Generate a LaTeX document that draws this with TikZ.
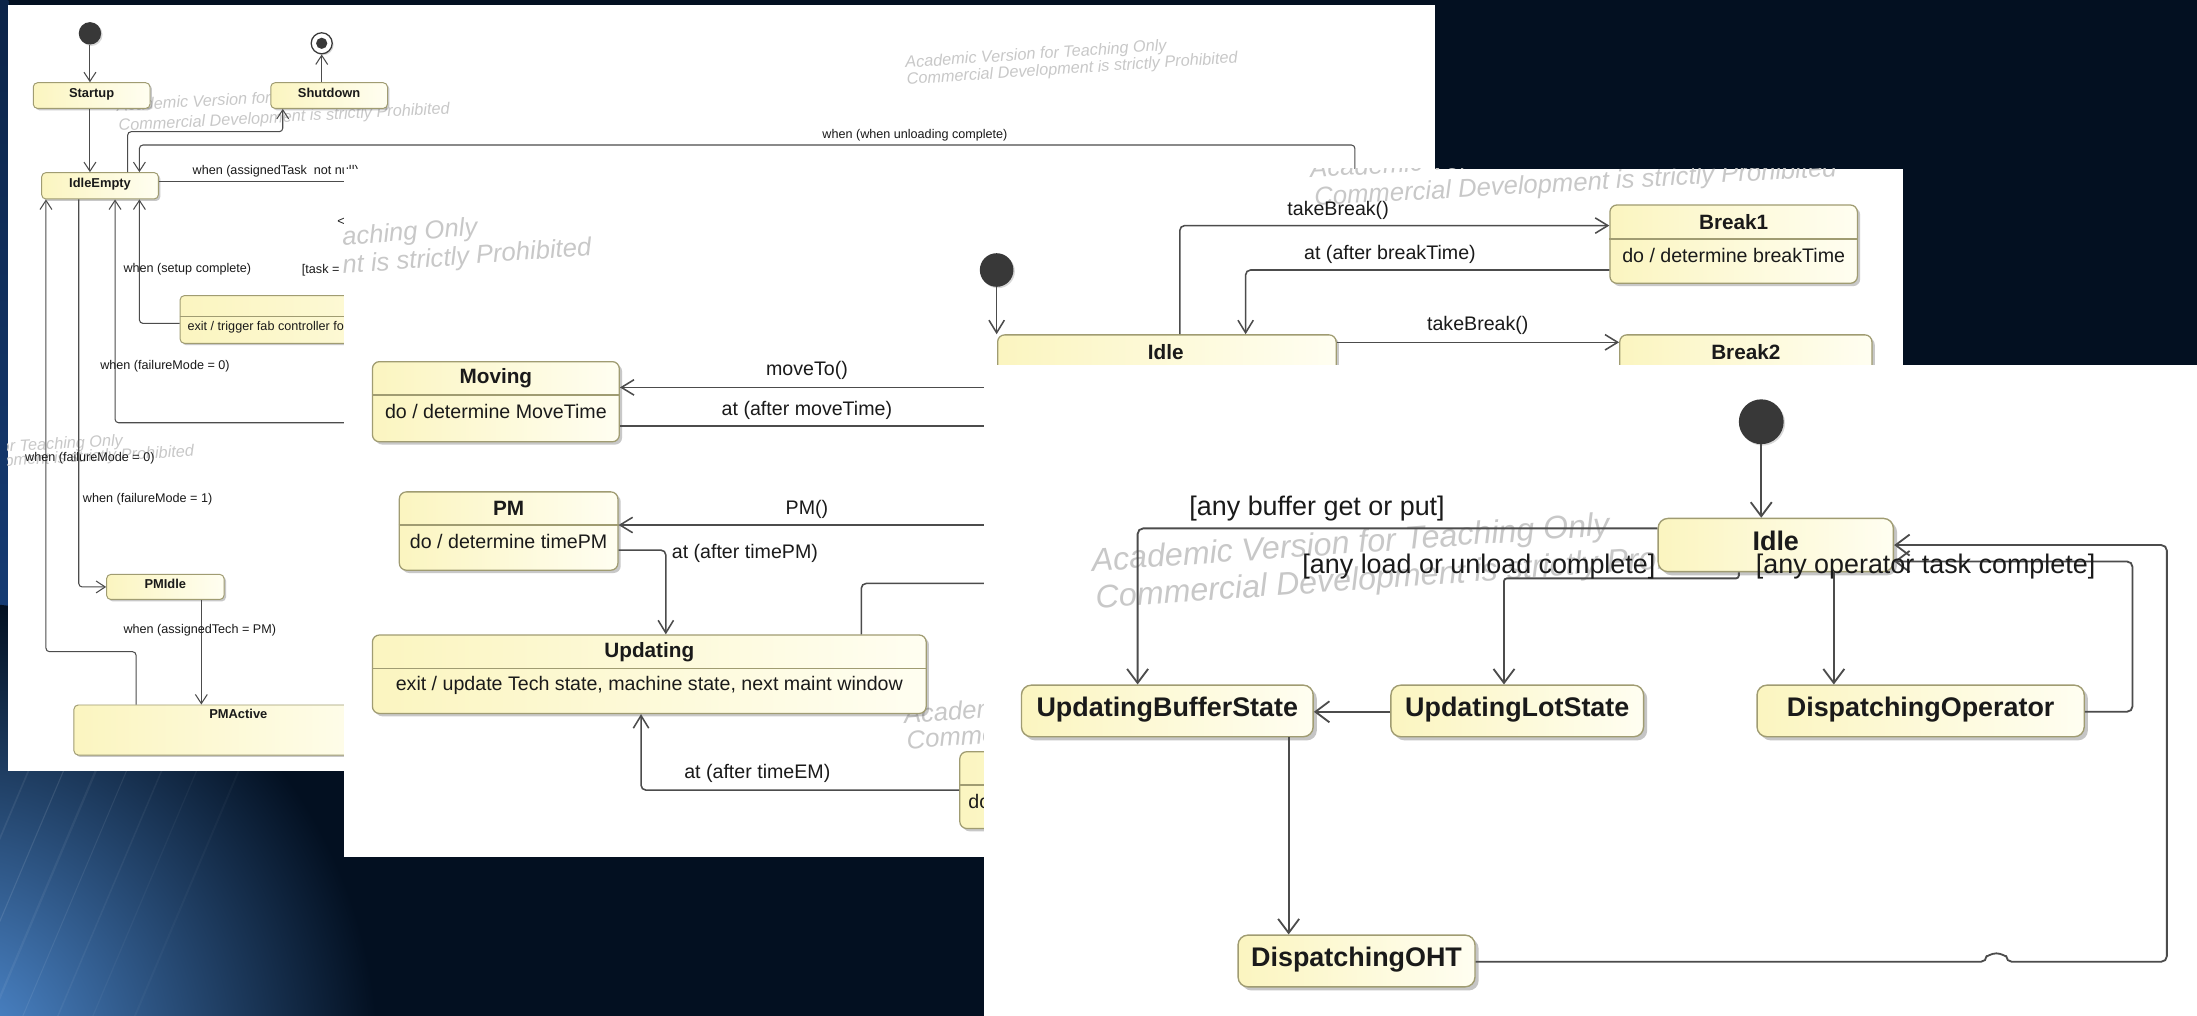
\documentclass[tikz,border=0pt]{standalone}
\usepackage{fontspec}
\setmainfont{Liberation Sans}
\usetikzlibrary{arrows.meta,shadows}

\definecolor{navy}{RGB}{3,16,33}
\definecolor{glow}{RGB}{82,144,216}
\definecolor{glowmid}{RGB}{24,66,128}
\definecolor{stripTop}{RGB}{12,36,72}
\definecolor{boxL}{RGB}{251,245,192}
\definecolor{boxR}{RGB}{255,254,241}
\definecolor{boxline}{RGB}{160,156,114}
\definecolor{wire}{RGB}{76,76,76}
\definecolor{ink}{RGB}{26,26,26}
\definecolor{wmark}{RGB}{200,200,200}
\definecolor{dotc}{RGB}{56,56,56}

\tikzset{
  state/.style={draw=boxline, left color=boxL, right color=boxR, inner sep=0pt, text=ink},
  stA/.style={state, line width=.7pt, rounded corners=3pt,
    drop shadow={shadow xshift=1.4pt, shadow yshift=-1.4pt, opacity=.3, fill=black!70}},
  stB/.style={state, line width=.9pt, rounded corners=5pt,
    drop shadow={shadow xshift=2pt, shadow yshift=-2pt, opacity=.3, fill=black!70}},
  stC/.style={state, line width=1pt, rounded corners=7pt,
    drop shadow={shadow xshift=2.6pt, shadow yshift=-2.6pt, opacity=.32, fill=black!70}},
  initdot/.style={circle, fill=dotc, inner sep=0pt,
    drop shadow={shadow xshift=1pt, shadow yshift=-1pt, opacity=.25, fill=black!60}},
  labA/.style={font=\fontsize{9}{11}\selectfont, text=ink, inner sep=0pt},
  labB/.style={font=\fontsize{14}{16}\selectfont, text=ink, inner sep=0pt},
  labC/.style={font=\fontsize{19.2}{22}\selectfont, text=ink, inner sep=0pt},
  nmA/.style={font=\fontsize{9.2}{11}\selectfont\bfseries, text height=6.8pt, text depth=4.2pt},
  nmB/.style={font=\fontsize{14.8}{17}\selectfont\bfseries, text=ink, inner sep=0pt},
  nmC/.style={font=\fontsize{19.2}{22}\selectfont\bfseries, text height=13.5pt, text depth=5.5pt},
  wmA/.style={font=\fontsize{11.6}{13}\selectfont\itshape, text=wmark, inner sep=0pt, anchor=west},
  wmB/.style={font=\fontsize{18.3}{20}\selectfont\itshape, text=wmark, inner sep=0pt, anchor=west},
  wmC/.style={font=\fontsize{23}{26}\selectfont\itshape, text=wmark, inner sep=0pt, anchor=west},
  wA/.style={draw=wire, line width=.75pt, rounded corners=2.5pt},
  wB/.style={draw=wire, line width=1.1pt, rounded corners=3.5pt},
  wC/.style={draw=wire, line width=1.3pt, rounded corners=4pt},
  tipA/.style={-{Straight Barb[length=6.5pt,width=8.5pt]}},
  tipB/.style={-{Straight Barb[length=9pt,width=11pt]}},
  tipC/.style={-{Straight Barb[length=10pt,width=15pt]}},
  divA/.style={draw=boxline, line width=.7pt},
  divB/.style={draw=boxline, line width=.9pt},
}

\begin{document}
\begin{tikzpicture}[x=1pt,y=-1pt]
\useasboundingbox (0,0) rectangle (1568,725);

% ---------- backdrop ----------
\fill[navy] (0,0) rectangle (1568,725);
\begin{scope}
  \clip (0,0) rectangle (1568,725);
  \shade[top color=stripTop, bottom color=glowmid] (0,0) rectangle (6,560);
  \shade[inner color=glow, outer color=navy] (-30,760) ellipse[x radius=300, y radius=330];
  \foreach \x/\o/\w in {-60/.07/1.2, -35/.10/.8, -12/.06/1.6, 10/.08/.7, 35/.05/1.1,
                        60/.04/.9, 90/.03/1.4}
    \draw[white, opacity=\o, line width=\w] (\x,740) -- ++(110,-260);
\end{scope}

% ================= machine diagram (back sheet) =================
\begin{scope}
  \clip (5.7,3.3) rectangle (1024.3,550.3);
  \fill[white] (5.7,3.3) rectangle (1024.3,550.3);

  \node[wmA, rotate=3] (wmA1) at (83.3,76.3) {Academic Version for Teaching Only};
  \node[wmA, rotate=3] (wmA2) at (84.5,90.5) {Commercial Development is strictly Prohibited};
  \node[wmA, rotate=3.8] (wmB1) at (646,45.5) {Academic Version for Teaching Only};
  \node[wmA, rotate=3.8] (wmB2) at (647,57.5) {Commercial Development is strictly Prohibited};
  \node[wmA, rotate=3] (wmC1) at (-99,325) {Academic Version for Teaching Only};
  \node[wmA, rotate=3] (wmC2) at (-98,335) {Commercial Development is strictly Prohibited};

  % states
  \node[initdot, minimum size=16pt] (init1) at (64.2,23.8) {};
  \node[circle, draw=dotc, line width=.9pt, fill=white, minimum size=15pt, inner sep=0pt,
        drop shadow={shadow xshift=1pt, shadow yshift=-1pt, opacity=.25, fill=black!60}]
        (fin1) at (229.6,30.9) {};
  \node[circle, fill=dotc, minimum size=8pt, inner sep=0pt] (fin1dot) at (fin1) {};
  \node[stA, nmA, minimum width=83.3pt, minimum height=18.3pt] (startup) at (65.4,68.2) {Startup};
  \node[stA, nmA, minimum width=83.3pt, minimum height=18.3pt] (shutdown) at (234.9,68.2) {Shutdown};
  \node[stA, nmA, minimum width=83.3pt, minimum height=18.8pt] (idleempty) at (71.4,132.6) {IdleEmpty};
  \node[stA, minimum width=291.5pt, minimum height=34pt] (exitbox) at (274.3,228) {};
  \draw[divA] (exitbox.west |- 0,226) -- (exitbox.east |- 0,226);
  \node[labA, anchor=west] (exitT) at (133.7,233.2) {exit / trigger fab controller for};
  \node[stA, nmA, minimum width=83.8pt, minimum height=17.9pt] (pmidle) at (118,418.9) {PMIdle};
  \node[stA, minimum width=234.6pt, minimum height=35.7pt] (pmactive) at (170.1,521) {};
  \node[nmA, text=ink, inner sep=0pt] (pmactiveT) at (170.1,511.4) {PMActive};

  % transitions
  \coordinate (cutA) at (967,125);
  \coordinate (cutB) at (260,129.2);
  \coordinate (cutC) at (260,301.7);
  \draw[wA, tipA] (init1) -- (init1 |- startup.north);
  \draw[wA, tipA] (startup.south -| init1) -- (idleempty.north -| init1);
  \draw[wA, tipA] (shutdown.north -| fin1) -- (fin1);
  \draw[wA, tipA] (idleempty.north -| 91.1,0) |- (201.8,94) -- (shutdown.south -| 201.8,0);
  \draw[wA, tipA] (cutA) |- (99.5,103.5) -- (idleempty.north -| 99.5,0);
  \draw[wA] (idleempty.east |- cutB) -- (cutB);
  \draw[wA, tipA] (exitbox.west |- 0,230.8) -| (idleempty.south -| 99.5,0);
  \draw[wA, tipA] (cutC) -| (idleempty.south -| 82.1,0);
  \draw[wA, tipA] (idleempty.south -| 56.2,0) |- (pmidle.west);
  \draw[wA, tipA] (pmactive.north -| 97.1,0) |- (32.8,465.1) -- (idleempty.south -| 32.8,0);
  \draw[wA, tipA] (pmidle.south -| 143.7,0) -- (pmactive.north -| 143.7,0);

  % guards and triggers
  \node[labA] (lUnload) at (653,96.4) {when (when unloading complete)};
  \node[labA, anchor=west] (lAssign) at (137.3,122.5) {when (assignedTask~ not null)};
  \node[labA, anchor=west] (lLess) at (240.5,158.2) {<};
  \node[labA, anchor=west] (lSetup) at (88,192.2) {when (setup complete)};
  \node[labA, anchor=west] (lTask) at (215.3,193.2) {[task =};
  \node[labA, anchor=west] (lFM0a) at (71.4,261.7) {when (failureMode = 0)};
  \node[labA, anchor=west] (lFM0b) at (17.8,326.7) {when (failureMode = 0)};
  \node[labA, anchor=west] (lFM1) at (59,356.2) {when (failureMode = 1)};
  \node[labA, anchor=west] (lTech) at (88,449.7) {when (assignedTech = PM)};
\end{scope}

% ================= technician diagram (middle sheet) =================
\begin{scope}
  \clip (245.5,120.6) rectangle (1358.3,611.5);
  \fill[white] (245.5,120.6) rectangle (1358.3,611.5);

  \node[wmB, rotate=4.3] (wmD1) at (46.7,185.3) {Academic Version for Teaching Only};
  \node[wmB, rotate=4.3] (wmD2) at (49.7,205.3) {Commercial Development is strictly Prohibited};
  \node[wmB, rotate=3.2] (wmE1) at (935,122) {Academic Version for Teaching Only};
  \node[wmB, rotate=3.2] (wmE2) at (938,142) {Commercial Development is strictly Prohibited};
  \node[wmB, rotate=4.3] (wmF1) at (645,512) {Academic Version for Teaching Only};
  \node[wmB, rotate=4.3] (wmF2) at (647,530) {Commercial Development is strictly Prohibited};

  % states
  \node[initdot, minimum size=24pt] (init2) at (711.3,192.7) {};
  \node[stB, minimum width=176.2pt, minimum height=57.2pt] (moving) at (353.9,286.7) {};
  \node[stB, minimum width=156pt, minimum height=55.9pt] (pm) at (363,379) {};
  \node[stB, minimum width=395.2pt, minimum height=56pt] (updating) at (463.4,481.2) {};
  \node[stB, minimum width=241.6pt, minimum height=51pt] (idle2) at (832.8,264.5) {};
  \node[stB, minimum width=176.6pt, minimum height=55.9pt] (break1) at (1237.3,174.25) {};
  \node[stB, minimum width=180pt, minimum height=56pt] (break2) at (1246,267) {};
  \node[stB, minimum width=215pt, minimum height=54.8pt] (embox) at (792.5,563.9) {};
  \draw[divB] (moving.west |- 0,282) -- (moving.east |- 0,282);
  \draw[divB] (pm.west |- 0,374.7) -- (pm.east |- 0,374.7);
  \draw[divB] (updating.west |- 0,477) -- (updating.east |- 0,477);
  \draw[divB] (break1.west |- 0,170.6) -- (break1.east |- 0,170.6);
  \draw[divB] (embox.west |- 0,560.3) -- (embox.east |- 0,560.3);
  \node[nmB] (movingT) at (353.9,270) {Moving};
  \node[labB] (movingD) at (353.9,293.8) {do / determine MoveTime};
  \node[nmB] (pmT) at (363,362.8) {PM};
  \node[labB] (pmD) at (363,386.6) {do / determine timePM};
  \node[nmB] (updatingT) at (463.4,465.2) {Updating};
  \node[labB] (updatingD) at (463.4,489) {exit / update Tech state, machine state, next maint window};
  \node[nmB] (idle2T) at (832,251) {Idle};
  \node[nmB] (break1T) at (1237.3,158.7) {Break1};
  \node[labB] (break1D) at (1237.3,182.5) {do / determine breakTime};
  \node[nmB] (break2T) at (1246,251) {Break2};
  \node[labB, anchor=west] (emboxD) at (691,572.2) {do};

  % transitions
  \coordinate (cutD) at (720,276.5);
  \coordinate (cutE) at (720,304);
  \coordinate (cutF) at (720,374.7);
  \coordinate (cutG) at (720,416.4);
  \draw[wB, tipB] (init2) -- (init2 |- idle2.north);
  \draw[wB, tipB] (cutD) -- (moving.east |- cutD);
  \draw[wB] (moving.east |- cutE) -- (cutE);
  \draw[wB, tipB] (cutF) -- (pm.east |- cutF);
  \draw[wB, tipB] (pm.east |- 0,392.6) -| (updating.north -| 475.2,0);
  \draw[wB] (updating.north -| 614.7,0) |- (cutG);
  \draw[wB, tipB] (embox.west |- 0,563.9) -| (updating.south -| 457.5,0);
  \draw[wB, tipB] (idle2.north -| 842,0) |- (break1.west |- 0,161);
  \draw[wB, tipB] (break1.west |- 0,192.7) -| (idle2.north -| 889,0);
  \draw[wB, tipB] (idle2.east |- 0,244.3) -- (break2.west |- 0,244.3);

  % triggers
  \node[labB] (lMoveTo) at (575.9,264.6) {moveTo()};
  \node[labB] (lMoveTime) at (575.9,292.6) {at (after moveTime)};
  \node[labB] (lPM) at (575.9,363.6) {PM()};
  \node[labB, anchor=west] (lTimePM) at (479.3,395) {at (after timePM)};
  \node[labB] (lTimeEM) at (540.5,552) {at (after timeEM)};
  \node[labB] (lBreakA) at (955,149.9) {takeBreak()};
  \node[labB] (lBreakTime) at (992,181.5) {at (after breakTime)};
  \node[labB] (lBreakB) at (1054.7,232.5) {takeBreak()};
\end{scope}

% ================= OHT controller diagram (front sheet) =================
\begin{scope}
  \clip (702.4,260.5) rectangle (1568,725);
  \fill[white] (702.4,260.5) rectangle (1568,725);

  \node[wmC, rotate=4] (wmG1) at (779,402) {Academic Version for Teaching Only};
  \node[wmC, rotate=4] (wmG2) at (781.9,428.3) {Commercial Development is strictly Prohibited};

  % states
  \node[initdot, minimum size=32pt] (init3) at (1257,301) {};
  \node[stC, nmC, minimum width=167.9pt, minimum height=38pt] (idle3) at (1267.35,389) {Idle};
  \node[stC, nmC, minimum width=208.2pt, minimum height=36.8pt] (ubs) at (833.1,507.4) {UpdatingBufferState};
  \node[stC, nmC, minimum width=180.3pt, minimum height=36.8pt] (uls) at (1082.85,507.4) {UpdatingLotState};
  \node[stC, nmC, minimum width=233.5pt, minimum height=36.8pt] (dop) at (1370.75,507.4) {DispatchingOperator};
  \node[stC, nmC, minimum width=169.1pt, minimum height=36.9pt] (oht) at (968.15,685.85) {DispatchingOHT};

  % transitions
  \draw[wC, tipC] (init3) -- (init3 |- idle3.north);
  \draw[wC, tipC] (idle3.west |- 0,377.1) -| (ubs.north -| 811.9,0);
  \draw[wC, tipC, rounded corners=2pt] (idle3.south -| 1241,0) |- (1073.4,412.8)
    -- (uls.north -| 1073.4,0);
  \draw[wC, tipC] (idle3.south -| 1308.8,0) -- (dop.north -| 1308.8,0);
  \draw[wC, tipC] (uls.west |- 0,508) -- (ubs.east |- 0,508);
  \draw[wC, tipC] (ubs.south -| 919.7,0) -- (oht.north -| 919.7,0);
  \draw[wC, tipC] (dop.east |- 0,508) -| (1522,400.7) -- (idle3.east |- 0,400.7);
  \draw[wC, tipC] (oht.east |- 0,686.4) -- (1417.8,686.4)
    arc[start angle=180, end angle=360, x radius=7, y radius=6]
    -- (1546.5,686.4) |- (idle3.east |- 0,389);

  % guards
  \node[labC] (lBuf) at (940,362.8) {[any buffer get or put]};
  \node[labC] (lLoad) at (1055.5,404.5) {[any load or unload complete]};
  \node[labC] (lOp) at (1374.3,404.5) {[any operator task complete]};
\end{scope}
\end{tikzpicture}
\end{document}
